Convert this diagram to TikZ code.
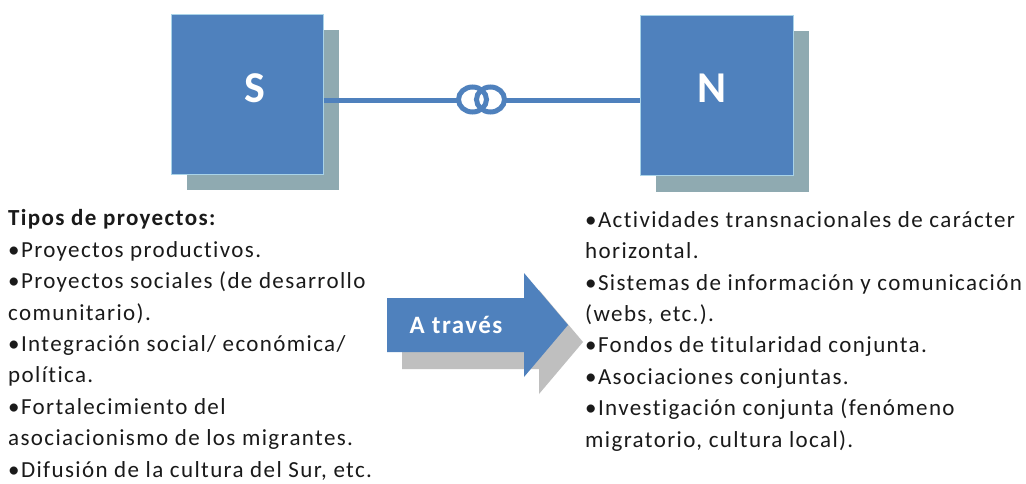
\documentclass[tikz,border=0pt]{standalone}
\usepackage{fontspec}
\setmainfont{Carlito}
\newfontfamily\bodyfont{Carlito}[LetterSpace=6, Ligatures={NoCommon,NoRare}]
\usetikzlibrary{calc}
\definecolor{myblue}{HTML}{4F81BD}
\definecolor{myedge}{HTML}{A9D3E8}
\definecolor{shadowc}{HTML}{8FAAB1}
\definecolor{arrowshadow}{HTML}{BFBFBF}
\definecolor{txt}{HTML}{1A1A1A}
\begin{document}
\begin{tikzpicture}[x=1pt,y=-1pt,
  sq/.style={fill=myblue, draw=myedge, line width=0.8pt, inner sep=0pt, anchor=north west},
  shad/.style={fill=shadowc},
  link/.style={draw=myblue, line width=5pt},
  letter/.style={text=white, font=\fontsize{44}{44}\selectfont\bfseries, inner sep=0pt},
  col/.style={text=txt, align=left, inner sep=0pt, anchor=base west, font=\bodyfont\fontsize{23}{31.4}\selectfont},
  via/.style={text=white, inner sep=0pt, anchor=base, font=\bodyfont\fontsize{25}{25}\selectfont\bfseries}]
\useasboundingbox (0,0) rectangle (1026,484);
\fill[white] (0,0) rectangle (1026,484);
% shadows
\fill[shad] (187,30) rectangle (339,190);
\fill[shad] (656,31) rectangle (809,192);
% squares
\node[sq, minimum width=152pt, minimum height=160pt] (S) at (171,14) {};
\node[sq, minimum width=153pt, minimum height=160pt] (N) at (640,15) {};
\node[letter] (Sl) at (255,88) {S};
\node[letter] (Nl) at (712,88) {N};
% link
\coordinate (sa) at ($(S.east)+(0,6)$);
\coordinate (na) at ($(N.west)+(0,5)$);
\coordinate (r1) at (472.5,99.5);
\coordinate (r2) at (490.5,99.5);
\draw[link] (sa) -- (na);
\fill[white] (r1) ellipse [x radius=14, y radius=12.5];
\fill[white] (r2) ellipse [x radius=14, y radius=12.5];
\draw[link] (r1) ellipse [x radius=14, y radius=12.5];
\draw[link] (r2) ellipse [x radius=14, y radius=12.5];
% arrow
\fill[arrowshadow] (402,315) -- (539,315) -- (539,290) -- (583,342) -- (539,394) -- (539,369) -- (402,369) -- cycle;
\fill[myblue] (387,298) -- (524,298) -- (524,273) -- (568,325) -- (524,377) -- (524,352) -- (387,352) -- cycle;
\node[via] (A) at (456,333) {A través};
% texts (base anchor = baseline of the last line)
\node[col] (L) at (8,477) {{\bfseries Tipos de proyectos:}\\
•Proyectos productivos.\\
•Proyectos sociales (de desarrollo\\
comunitario).\\
•Integración social/ económica/\\
política.\\
•Fortalecimiento del\\
asociacionismo de los migrantes.\\
•Difusión de la cultura del Sur, etc.};
\node[col] (R) at (585,447) {•Actividades transnacionales de carácter\\
horizontal.\\
•Sistemas de información y comunicación\\
(webs, etc.).\\
•Fondos de titularidad conjunta.\\
•Asociaciones conjuntas.\\
•Investigación conjunta (fenómeno\\
migratorio, cultura local).};
\end{tikzpicture}
\end{document}
